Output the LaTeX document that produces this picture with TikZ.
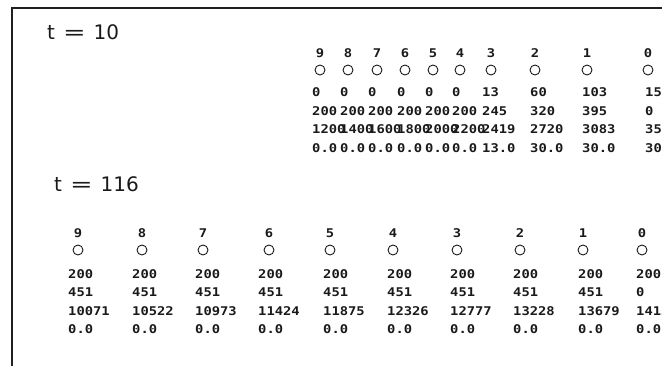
\documentclass[tikz,border=0pt]{standalone}
\usepackage{fontspec}
\usepackage{xcolor}
\usetikzlibrary{positioning}
\setmainfont{DejaVu Sans}
\newfontfamily\pixfont[FakeStretch=1.15]{DejaVu Sans Mono}
\definecolor{InkGray}{HTML}{1A1A1A}
\definecolor{FrameGray}{HTML}{202020}
\tikzset{
  TL/.style={anchor=west,inner sep=0pt,font=\fontsize{20}{22}\selectfont,text=InkGray},
  NL/.style={inner sep=0pt,font=\pixfont\bfseries\fontsize{12}{13}\selectfont,text=InkGray},
  CR/.style={circle,draw=InkGray,line width=0.9pt,minimum size=10pt,inner sep=0pt},
  VL/.style={anchor=west,inner sep=0pt,font=\pixfont\bfseries\fontsize{12}{13}\selectfont,text=InkGray},
  FR/.style={draw=FrameGray,line width=1.4pt}
}

\begin{document}
\begin{tikzpicture}[x=1pt,y=-1pt]
  \useasboundingbox (0,0) rectangle (662,366);
  \clip (0,0) rectangle (662,366);

  % frame
  \coordinate (frTL) at (12,8);
  \coordinate (frTR) at (662,8);
  \coordinate (frBL) at (12,366);
  \draw[FR] (frTR) -- (frTL) -- (frBL);

  % t = 10
  \node[TL] (tTen) at (47,32) {t\hspace{.4em}\scalebox{1.35}[1]{=}\hspace{.4em}10};
  \foreach \n/\tx/\cx/\va/\vb/\vc/\vd in {
      9/312/320/0/200/1200/0.0, 8/340/348/0/200/1400/0.0,
      7/368/377/0/200/1600/0.0, 6/397/405/0/200/1800/0.0,
      5/425/433/0/200/2000/0.0, 4/452/460/0/200/2200/0.0,
      3/482/491/13/245/2419/13.0, 2/530/535/60/320/2720/30.0,
      1/582/587/103/395/3083/30.0, 0/645/648/150/0/3520/30.0}{
    \node[NL] (topN\n) at (\cx,53) {\n};
    \node[CR] (topC\n) at (\cx,70) {};
    \node[VL] (topA\n) at (\tx,92) {\va};
    \node[VL] (topB\n) at (\tx,111) {\vb};
    \node[VL] (topD\n) at (\tx,129.5) {\vc};
    \node[VL] (topE\n) at (\tx,148) {\vd};
  }

  % t = 116
  \node[TL] (tOneSix) at (54,184) {t\hspace{.4em}\scalebox{1.35}[1]{=}\hspace{.4em}116};
  \foreach \n/\tx/\cx/\va/\vb/\vc/\vd in {
      9/68/78/200/451/10071/0.0, 8/132/142/200/451/10522/0.0,
      7/195/203/200/451/10973/0.0, 6/258/269/200/451/11424/0.0,
      5/323/330/200/451/11875/0.0, 4/387/393/200/451/12326/0.0,
      3/450/457/200/451/12777/0.0, 2/513/520/200/451/13228/0.0,
      1/578/583/200/451/13679/0.0, 0/636/642/200/0/14130/0.0}{
    \node[NL] (botN\n) at (\cx,233) {\n};
    \node[CR] (botC\n) at (\cx,250) {};
    \node[VL] (botA\n) at (\tx,274) {\va};
    \node[VL] (botB\n) at (\tx,292.5) {\vb};
    \node[VL] (botD\n) at (\tx,311) {\vc};
    \node[VL] (botE\n) at (\tx,329) {\vd};
  }
\end{tikzpicture}
\end{document}
